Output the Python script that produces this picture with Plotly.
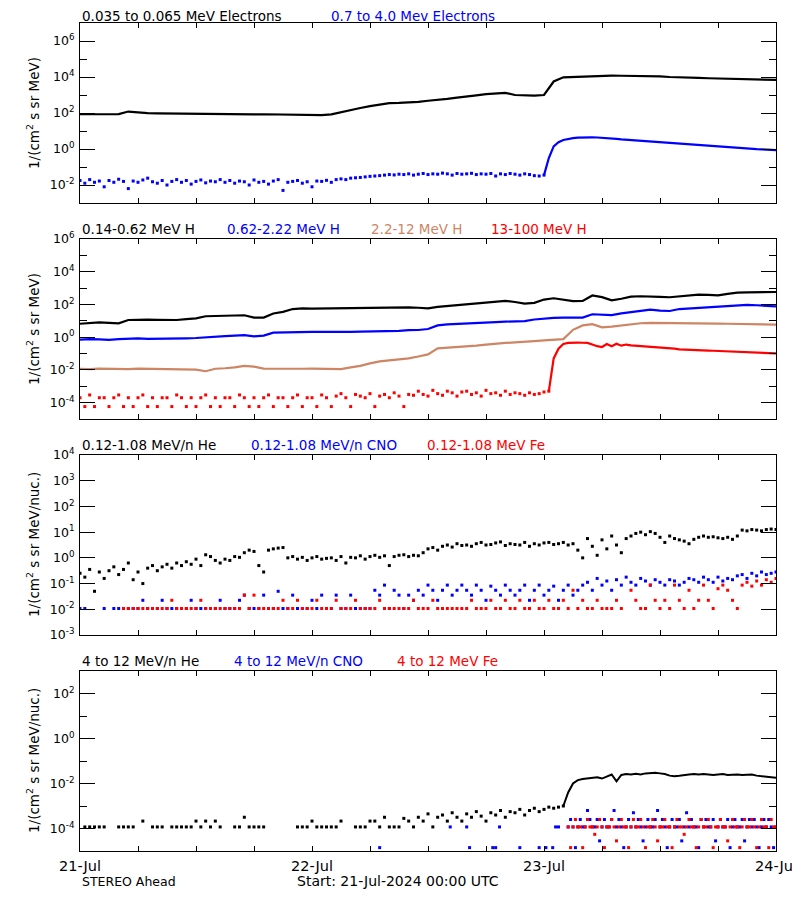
import plotly.graph_objects as go
from datetime import datetime, timedelta

START = datetime(2024, 7, 21)
END = datetime(2024, 7, 24)

# ---------------- data (log10 of flux) ----------------
hours_1h = list(range(73))            # hourly samples 0..72 h
hours_30m = [h / 2 for h in range(145)]  # half-hour samples 0..72 h

# Panel 1: electrons
e_lo_log = [1.93, 1.94, 1.92, 1.93, 1.94, 2.08, 2.03, 1.99, 1.98, 1.97,
            1.97, 1.96, 1.95, 1.93, 1.92, 1.93, 1.94, 1.93, 1.92, 1.93,
            1.92, 1.93, 1.92, 1.93, 1.90, 1.88, 1.92, 2.05, 2.18, 2.28,
            2.38, 2.47, 2.55, 2.56, 2.57, 2.62, 2.68, 2.72, 2.78, 2.85,
            2.90, 2.98, 3.05, 3.08, 3.12, 3.00, 2.96, 2.96, 3.00, 3.75,
            3.98, 4.00, 4.02, 4.07, 4.09, 4.08, 4.07, 4.07, 4.06, 4.05,
            4.03, 4.00, 3.97, 3.96, 3.95, 3.93, 3.92, 3.91, 3.90, 3.89,
            3.88, 3.86, 3.84]
e_hi_log = [-1.75, -1.90, -1.70, -1.85, -1.78, -2.10, -1.75, -1.85, -1.68, -1.80,
            -2.20, -1.78, -1.85, -1.72, -1.62, -1.82, -1.90, -1.75, -2.00, -1.80,
            -1.70, -1.85, -1.75, -1.95, -1.80, -1.72, -1.88, -1.78, -1.82, -1.70,
            -1.85, -1.75, -1.90, -1.78, -1.82, -2.00, -1.72, -1.85, -1.80, -1.95,
            -1.78, -1.70, -2.30, -1.85, -1.80, -1.75, -1.90, -1.82, -2.10, -1.78,
            -1.80, -1.74, -1.85, -1.70, -1.66, -1.70, -1.62, -1.60, -1.58, -1.55,
            -1.52, -1.50, -1.48, -1.45, -1.42, -1.44, -1.40, -1.42, -1.38, -1.45,
            -1.40, -1.36, -1.42, -1.38, -1.40, -1.34, -1.38, -1.45, -1.36, -1.40,
            -1.38, -1.35, -1.42, -1.38, -1.40, -1.36, -1.50, -1.38, -1.42, -1.36,
            -1.40, -1.45, -1.38, -1.42, -1.48, -1.50,
            -1.45, -0.50, 0.15, 0.38, 0.50, 0.56, 0.60, 0.63, 0.65, 0.66,
            0.65, 0.64, 0.63, 0.61, 0.59, 0.56, 0.53, 0.51, 0.48, 0.46,
            0.44, 0.42, 0.40, 0.38, 0.35, 0.33, 0.31, 0.29, 0.27, 0.25,
            0.23, 0.21, 0.19, 0.17, 0.15, 0.13, 0.11, 0.10, 0.08, 0.07,
            0.05, 0.04, 0.02, 0.01, -0.01, -0.02, -0.04, -0.05, -0.06]

# Panel 2: protons
h1_log = [0.82, 0.87, 0.90, 0.88, 0.85, 1.05, 1.08, 1.07, 1.06, 1.04,
          1.05, 1.10, 1.15, 1.28, 1.30, 1.32, 1.36, 1.34, 1.20, 1.20,
          1.45, 1.55, 1.72, 1.76, 1.74, 1.75, 1.72, 1.75, 1.77, 1.78,
          1.80, 1.80, 1.80, 1.82, 1.82, 1.80, 1.76, 1.85, 1.90, 1.95,
          2.00, 2.05, 2.10, 2.15, 2.22, 2.15, 2.05, 2.10, 2.30, 2.38,
          2.30, 2.20, 2.22, 2.55, 2.45, 2.25, 2.35, 2.48, 2.50, 2.50,
          2.46, 2.44, 2.50, 2.55, 2.60, 2.58, 2.55, 2.65, 2.72, 2.74,
          2.76, 2.77, 2.76]
h2_log = [-0.15, -0.12, -0.14, -0.16, -0.12, -0.08, -0.07, -0.10, -0.10, -0.09,
          -0.08, -0.07, -0.05, 0.00, 0.03, 0.06, 0.10, 0.12, 0.05, 0.10,
          0.28, 0.30, 0.32, 0.33, 0.32, 0.33, 0.32, 0.33, 0.33, 0.34,
          0.35, 0.35, 0.36, 0.38, 0.43, 0.44, 0.50, 0.72, 0.78, 0.80,
          0.83, 0.86, 0.90, 0.92, 0.95, 0.97, 0.98, 1.08, 1.14, 1.18,
          1.20, 1.18, 1.20, 1.40, 1.38, 1.35, 1.45, 1.52, 1.60, 1.68,
          1.62, 1.60, 1.72, 1.76, 1.80, 1.83, 1.85, 1.92, 1.96, 1.97,
          1.95, 1.92, 1.88]
h3_log = [-1.93, -1.95, -1.92, -1.94, -1.93, -1.95, -1.92, -1.93, -1.94, -1.93,
          -1.92, -1.93, -1.98, -2.08, -1.93, -1.90, -1.85, -1.75, -1.80, -1.92,
          -1.93, -1.92, -1.94, -1.93, -1.92, -1.94, -1.93, -1.95, -1.85, -1.75,
          -1.60, -1.48, -1.42, -1.35, -1.30, -1.18, -1.05, -0.68, -0.64, -0.60,
          -0.58, -0.52, -0.45, -0.38, -0.35, -0.32, -0.30, -0.24, -0.20, -0.18,
          -0.12, 0.45, 0.72, 0.80, 0.60, 0.65, 0.72, 0.80, 0.85, 0.87,
          0.87, 0.86, 0.86, 0.85, 0.85, 0.84, 0.83, 0.82, 0.81, 0.80,
          0.79, 0.78, 0.77]
h4_log = [-3.70, -4.24, -3.53, -4.24, -3.70, -3.70, -4.24, -3.70, -3.53, -4.24,
          -3.70, -4.24, -3.70, -3.53, -4.24, -3.70, -4.24, -3.70, -3.70, -4.24,
          -3.53, -3.70, -4.24, -3.70, -4.24, -3.70, -3.53, -4.24, -3.70, -4.24,
          -3.70, -3.70, -4.24, -3.53, -3.70, -4.24, -3.70, -4.24, -3.70, -3.53,
          -4.24, -3.70, -3.70, -4.24, -3.70, -3.53, -4.24, -3.70, -3.70, -4.24,
          -3.53, -3.70, -4.24, -3.60, -3.45, -3.70, -4.24, -3.50, -3.60, -3.70,
          -3.45, -4.24, -3.60, -3.50, -3.70, -3.40, -3.60, -4.24, -3.50, -3.55,
          -3.30, -3.50, -3.60, -3.25, -3.45, -3.55, -3.30, -3.40, -3.60, -3.35,
          -3.30, -3.50, -3.40, -3.60, -3.25, -3.45, -3.40, -3.55, -3.30, -3.50,
          -3.40, -3.45, -3.55, -3.40, -3.50, -3.45, -3.35, -3.30,
          -1.30, -0.70, -0.42, -0.35, -0.33, -0.33, -0.34, -0.35, -0.45, -0.55,
          -0.60, -0.42, -0.55, -0.40, -0.52, -0.45, -0.50, -0.52, -0.55, -0.55,
          -0.58, -0.60, -0.63, -0.66, -0.68, -0.70, -0.74, -0.76, -0.78, -0.79,
          -0.80, -0.81, -0.82, -0.83, -0.84, -0.85, -0.86, -0.87, -0.88, -0.90,
          -0.92, -0.93, -0.94, -0.95, -0.96, -0.97, -0.99]

# Panel 3: 0.12-1.08 MeV/n heavy ions
he3_log = [-0.60, -0.75, -0.45, -1.30, -0.55, -0.80, -0.50, -0.35, -0.65, -0.45,
           -0.20, -0.85, -0.55, -1.00, -0.40, -0.30, -0.50, -0.35, -0.25, -0.40,
           -0.20, -0.30, -0.15, -0.25, -0.05, -0.30, 0.12, 0.05, -0.10, -0.20,
           -0.05, -0.10, 0.05, 0.02, 0.20, 0.30, 0.25, -0.30, -0.55, 0.30,
           0.35, 0.38, 0.40, 0.00, 0.05, -0.05, 0.02, -0.10, 0.00, 0.05,
           -0.05, -0.02, 0.00, -0.10, 0.05, -0.20, 0.02, 0.00, 0.08, -0.05,
           0.05, 0.10, 0.02, 0.08, -0.30, 0.05, 0.10, 0.12, 0.05, 0.10,
           0.08, 0.20, 0.35, 0.40, 0.30, 0.45, 0.50, 0.42, 0.55, 0.48,
           0.50, 0.45, 0.55, 0.60, 0.50, 0.52, 0.58, 0.62, 0.48, 0.55,
           0.52, 0.50, 0.60, 0.45, 0.55, 0.50, 0.58, 0.60, 0.52, 0.55,
           0.60, 0.50, 0.55, 0.30, 0.00, 0.75, 0.45, 0.10, 0.70, 0.35,
           0.85, 0.50, 0.20, 0.75, 0.85, 0.95, 1.00, 0.90, 1.02, 0.95,
           0.80, 0.60, 0.85, 0.75, 0.70, 0.65, 0.55, 0.72, 0.80, 0.85,
           0.80, 0.82, 0.78, 0.75, 0.80, 0.72, 0.85, 1.08, 1.05, 1.10,
           1.08, 1.05, 1.10, 1.12, 1.10]
cno3_log = [-1.97, -1.97, None, None, None, -1.97, None, -1.97, -1.97, -1.97,
            -1.97, -1.97, -1.97, -1.65, -1.97, -1.97, -1.97, -1.65, -1.97, -1.97,
            -1.97, -1.97, -1.97, -1.65, -1.97, -1.97, -1.97, -1.97, -1.97, -1.65,
            -1.97, -1.97, -1.97, -1.65, -1.45, -1.97, -1.97, -1.97, -1.45, -1.97,
            -1.97, -1.30, -1.97, -1.97, -1.45, -1.97, -1.97, -1.97, -1.65, -1.97,
            -1.45, -1.97, -1.97, -1.45, -1.97, -1.97, -1.45, -1.97, -1.97, -1.97,
            -1.97, -1.26, -1.45, -1.06, -1.97, -1.26, -1.45, -1.97, -1.45, -1.65,
            -1.26, -1.45, -1.06, -1.26, -1.65, -1.26, -1.06, -1.45, -1.26, -1.06,
            -1.26, -1.45, -1.06, -1.26, -1.65, -1.10, -1.26, -1.45, -1.06, -1.26,
            -1.45, -1.26, -1.06, -1.65, -1.26, -1.06, -1.45, -1.26, -1.10, -1.65,
            -1.26, -1.06, -1.45, -1.26, -1.06, -0.95, -1.26, -0.80, -1.06, -0.90,
            -1.26, -0.85, -1.06, -0.75, -0.95, -1.06, -0.80, -0.90, -1.06, -0.85,
            -0.95, -1.06, -0.85, -0.90, -1.06, -0.95, -0.80, -0.85, -0.95, -0.75,
            -0.85, -0.95, -0.75, -0.90, -0.80, -0.85, -0.70, -0.65, -0.80, -0.60,
            -0.70, -0.55, -0.65, -0.60, -0.55]
fe3_log = [None, None, None, None, None, None, None, None, None, -1.97,
           -1.97, -1.97, -1.97, -1.97, -1.97, -1.97, -1.97, -1.97, -1.97, -1.65,
           -1.97, -1.97, -1.97, -1.97, -1.97, -1.65, -1.97, -1.97, -1.97, -1.97,
           -1.97, -1.97, -1.97, -1.97, -1.45, -1.97, -1.45, -1.97, -1.97, -1.97,
           -1.97, -1.97, -1.65, -1.97, -1.97, -1.65, -1.97, -1.97, -1.97, -1.65,
           -1.97, -1.97, -1.97, -1.65, -1.97, -1.97, -1.97, -1.65, -1.97, -1.97,
           -1.97, -1.97, -1.65, -1.97, -1.97, -1.97, -1.97, -1.97, -1.97, -1.65,
           -1.97, -1.97, -1.97, -1.65, -1.97, -1.97, -1.97, -1.97, -1.97, -1.97,
           -1.97, -1.65, -1.97, -1.97, -1.97, -1.65, -1.97, -1.97, -1.65, -1.97,
           -1.97, -1.65, -1.97, -1.97, -1.65, -1.97, -1.97, -1.65, -1.97, -1.97,
           -1.65, -1.97, -1.26, -1.97, -1.65, -1.97, -1.97, -1.65, -1.97, -1.97,
           -1.97, -1.65, -1.97, None, -1.26, -1.65, -1.97, -1.97, -1.06, -1.65,
           -1.97, -1.65, -1.97, -1.06, -1.65, -1.97, -1.26, -1.97, -1.65, -1.06,
           -1.65, -1.97, -1.20, -1.06, -1.26, -1.65, -1.97, -1.06, -0.95, -1.10,
           -0.90, -1.06, -0.85, -0.95, -0.80]

# Panel 4: 4-12 MeV/n heavy ions
he4_log = [None, -3.93, -3.93, -3.93, -3.93, -3.93, None, None, -3.93, -3.93,
           -3.93, -3.93, None, -3.67, None, -3.93, -3.93, -3.93, None, -3.93,
           -3.93, -3.93, -3.93, -3.93, -3.67, -3.93, -3.67, -3.93, -3.67, -3.93,
           None, None, -3.93, -3.93, -3.50, -3.93, -3.93, -3.93, -3.93, None,
           None, None, None, None, None, -3.93, -3.93, -3.93, -3.67, -3.93,
           -3.93, -3.93, -3.93, -3.93, -3.67, None, None, -3.93, -3.93, -3.93,
           -3.67, -3.67, -3.93, -3.50, -3.93, -3.93, -3.93, -3.55, -3.67, -3.93,
           -3.50, -3.67, -3.35, -3.93, -3.50, -3.40, -3.67, -3.30, -3.50, -3.67,
           -3.35, -3.50, -3.25, -3.45, -3.67, -3.30, -3.40, -3.20, -3.50, -3.25,
           -3.30, -3.15, -3.40, -3.20, -3.10, -3.25, -3.15, -3.05, -3.10, -3.05,
           -3.00, -2.40, -2.00, -1.85, -1.80, -1.78, -1.76, -1.72, -1.78, -1.70,
           -1.60, -1.90, -1.62, -1.58, -1.60, -1.57, -1.60, -1.55, -1.53, -1.52,
           -1.55, -1.58, -1.65, -1.68, -1.66, -1.62, -1.60, -1.58, -1.60, -1.58,
           -1.60, -1.62, -1.60, -1.58, -1.62, -1.60, -1.60, -1.62, -1.62, -1.60,
           -1.65, -1.68, -1.70, -1.72, -1.74]
cno4_pre_hours = [31.0, 38.3, 40.0, 40.3, 42.7, 43.0, 43.4, 45.5, 47.5, 48.2, 48.9, 49.2, 49.5]
cno4_pre_log = [-4.85, -3.93, -3.93, -4.85, -4.85, -4.85, -3.93, -4.85, -4.85, -4.85, -4.85, -3.93, -3.93]
hours_15m_post = [50.5 + k / 4 for k in range(87)]
cno4_post_log = [-3.93, -3.60, -3.93, -4.85, -3.93, -3.60, -3.93, -3.93, -3.20, -3.60,
                 -3.93, -3.93, -3.60, -4.55, -3.93, -3.60, -3.93, -3.93, -3.60, -3.20,
                 -3.93, -3.60, -3.93, -4.85, -3.93, -3.60, -3.93, -3.30, -3.93, -3.60,
                 -3.93, -4.55, -3.93, -3.60, -3.93, -3.93, -3.60, -3.20, -3.93, -3.60,
                 -3.93, -4.85, -3.93, -3.60, -3.93, -3.93, -3.60, -4.55, -3.93, -3.30,
                 -3.93, -3.60, -3.93, -3.93, -4.85, -3.60, -3.93, -3.60, -3.93, -3.93,
                 -3.60, -4.55, -3.93, -3.60, -3.93, -3.93, -3.60, -4.85, -3.93, -3.60,
                 -3.93, -3.93, -3.60, -4.55, -3.93, -3.60, -3.93, -3.60, -3.93, -4.85,
                 -3.93, -3.60, -3.93, -3.60, -3.93, -4.85, -3.93]
fe4_post_log = [-3.93, -4.85, -3.93, -3.60, -3.93, -3.93, -4.85, -3.93, -3.60, -3.93,
                -3.93, -4.26, -3.93, -3.60, -3.93, -4.85, -3.93, -3.93, -3.60, -3.93,
                -4.55, -3.93, -3.60, -3.93, -3.93, -4.85, -3.93, -3.60, -3.93, -3.93,
                -3.60, -3.93, -4.85, -3.93, -3.93, -3.60, -3.93, -4.55, -3.93, -3.93,
                -3.60, -3.93, -3.93, -4.85, -3.93, -3.60, -3.93, -3.93, -4.26, -3.93,
                -3.60, -3.93, -3.93, -4.85, -3.93, -3.60, -3.93, -3.93, -3.60, -3.93,
                -4.85, -3.93, -3.93, -3.60, -3.93, -3.93, -4.55, -3.93, -3.60, -3.93,
                -3.93, -4.85, -3.93, -3.60, -3.93, -3.93, -3.60, -3.93, -4.85, -3.93,
                -3.60, -3.93, -3.93, -4.85, -3.60, -3.93, -3.93]

# labels
panel_labels = [
    [("0.035 to 0.065 MeV Electrons", "black"), ("0.7 to 4.0 Mev Electrons", "blue")],
    [("0.14-0.62 MeV H", "black"), ("0.62-2.22 MeV H", "blue"),
     ("2.2-12 MeV H", "rgb(205,133,100)"), ("13-100 MeV H", "red")],
    [("0.12-1.08 MeV/n He", "black"), ("0.12-1.08 MeV/n CNO", "blue"), ("0.12-1.08 MeV Fe", "red")],
    [("4 to 12 MeV/n He", "black"), ("4 to 12 MeV/n CNO", "blue"), ("4 to 12 MeV Fe", "red")],
]
y_titles = ["1/(cm<sup>2</sup> s sr MeV)", "1/(cm<sup>2</sup> s sr MeV)",
            "1/(cm<sup>2</sup> s sr MeV/nuc.)", "1/(cm<sup>2</sup> s sr MeV/nuc.)"]
day_labels = ["21-Jul", "22-Jul", "23-Jul", "24-Jul"]

# ---------------- helpers ----------------
OFF = 8                      # page body margin of the html page
W, H = 800 - OFF, 900 - OFF  # figure size so that the page is exactly filled
FONT = "DejaVu Sans"
BROWN = "rgb(205,133,100)"


def tt(hrs):
    return [START + timedelta(hours=h) for h in hrs]


def flux(logs):
    return [None if v is None else 10 ** v for v in logs]


def px(x):   # screen pixel x -> paper
    return (x - OFF) / W


def py(y):   # screen pixel y -> paper
    return 1 - (y - OFF) / H


fig = go.Figure()


def add_markers(hrs, logs, color, n, size=3):
    fig.add_trace(go.Scatter(x=tt(hrs), y=flux(logs), mode="markers",
                             marker=dict(symbol="square", size=size, color=color, line=dict(width=0)),
                             xaxis="x" if n == 1 else f"x{n}", yaxis="y" if n == 1 else f"y{n}",
                             showlegend=False, hoverinfo="skip"))


def add_line(hrs, logs, color, n, width=2.2):
    fig.add_trace(go.Scatter(x=tt(hrs), y=flux(logs), mode="lines",
                             line=dict(color=color, width=width),
                             xaxis="x" if n == 1 else f"x{n}", yaxis="y" if n == 1 else f"y{n}",
                             showlegend=False, hoverinfo="skip"))


# Panel 1
add_line(hours_1h, e_lo_log, "black", 1)
add_markers(hours_30m[:97], e_hi_log[:97], "blue", 1)
add_line(hours_30m[96:], e_hi_log[96:], "blue", 1)
# Panel 2
add_line(hours_1h, h1_log, "black", 2)
add_line(hours_1h, h2_log, "blue", 2)
add_line(hours_1h, h3_log, BROWN, 2)
add_markers(hours_30m[:98], h4_log[:98], "red", 2)
add_line(hours_30m[97:], h4_log[97:], "red", 2)
# Panel 3
add_markers(hours_30m, he3_log, "black", 3)
add_markers(hours_30m, cno3_log, "blue", 3)
add_markers(hours_30m, fe3_log, "red", 3)
# Panel 4
add_markers(hours_30m[:101], he4_log[:101], "black", 4)
add_line(hours_30m[100:], he4_log[100:], "black", 4, width=2.0)
add_markers(cno4_pre_hours, cno4_pre_log, "blue", 4)
add_markers(hours_15m_post, cno4_post_log, "blue", 4)
add_markers(hours_15m_post, fe4_post_log, "red", 4)

# ---------------- axes ----------------
panel_px = [(23, 203), (239, 419), (455, 635), (671, 851)]
y_ranges = [(-3, 7), (-5, 6), (-3, 4), (-5, 3)]
y_major = [[-2, 0, 2, 4, 6], [-4, -2, 0, 2, 4, 6], [-3, -2, -1, 0, 1, 2, 3, 4], [-4, -2, 0, 2]]
y_minor = [[-1, 1, 3, 5], [-3, -1, 1, 3, 5], [], [-3, -1, 1]]

six_hour = [START + timedelta(hours=h) for h in range(0, 73, 6)]
six_text = [day_labels[i // 4] if i % 4 == 0 else "" for i in range(13)]

layout = dict(width=W, height=H, autosize=False, margin=dict(l=0, r=0, t=0, b=0, pad=0),
              paper_bgcolor="white", plot_bgcolor="white", showlegend=False,
              font=dict(family=FONT, size=13, color="black"))

for i in range(4):
    n = i + 1
    xa = "xaxis" if n == 1 else f"xaxis{n}"
    ya = "yaxis" if n == 1 else f"yaxis{n}"
    top, bot = panel_px[i]
    layout[xa] = dict(domain=[px(80), px(776)], range=[START, END], type="date",
                      anchor="y" if n == 1 else f"y{n}", automargin=False,
                      tickmode="array", tickvals=six_hour,
                      ticktext=six_text if n == 4 else [""] * 13,
                      showticklabels=(n == 4),
                      ticks="inside", ticklen=5, tickwidth=1, tickcolor="black",
                      showline=True, linecolor="black", linewidth=1, mirror="ticks",
                      showgrid=False, zeroline=False, ticklabelstandoff=2,
                      tickfont=dict(family=FONT, size=14.5, color="black"))
    layout[ya] = dict(domain=[py(bot), py(top)], type="log", range=list(y_ranges[i]),
                      anchor="x" if n == 1 else f"x{n}", automargin=False,
                      tickmode="array", tickvals=[10 ** e for e in y_major[i]],
                      ticktext=[f"10<sup>{e}</sup>" for e in y_major[i]],
                      ticks="inside", ticklen=15, tickwidth=1, tickcolor="black",
                      minor=dict(tickmode="array", tickvals=[10 ** e for e in y_minor[i]],
                                 ticks="inside", ticklen=7, tickwidth=1, tickcolor="black",
                                 showgrid=False),
                      showline=True, linecolor="black", linewidth=1, mirror="ticks",
                      showgrid=False, zeroline=False, ticklabelstandoff=2,
                      tickfont=dict(family=FONT, size=12.5, color="black"))

fig.update_layout(**layout)

# ---------------- annotations ----------------
label_x = [[80, 329], [80, 225, 369, 489], [80, 249, 425], [80, 232, 395]]
label_y = [16, 229, 445, 661]
for i in range(4):
    for (txt, col), xx in zip(panel_labels[i], label_x[i]):
        fig.add_annotation(text=txt, x=px(xx), y=py(label_y[i]), xref="paper", yref="paper",
                           xanchor="left", yanchor="middle", showarrow=False,
                           font=dict(family=FONT, size=13.5, color=col))
    top, bot = panel_px[i]
    fig.add_annotation(text=y_titles[i], x=px(33), y=py((top + bot) / 2), xref="paper", yref="paper",
                       xanchor="center", yanchor="middle", textangle=-90, showarrow=False,
                       font=dict(family=FONT, size=13.5, color="black"))

fig.add_annotation(text="STEREO Ahead", x=px(80), y=py(881), xref="paper", yref="paper",
                   xanchor="left", yanchor="middle", showarrow=False,
                   font=dict(family=FONT, size=12.5, color="black"))
fig.add_annotation(text="Start: 21-Jul-2024 00:00 UTC", x=px(295), y=py(881), xref="paper", yref="paper",
                   xanchor="left", yanchor="middle", showarrow=False,
                   font=dict(family=FONT, size=14, color="black"))

fig.write_html("out.html")
